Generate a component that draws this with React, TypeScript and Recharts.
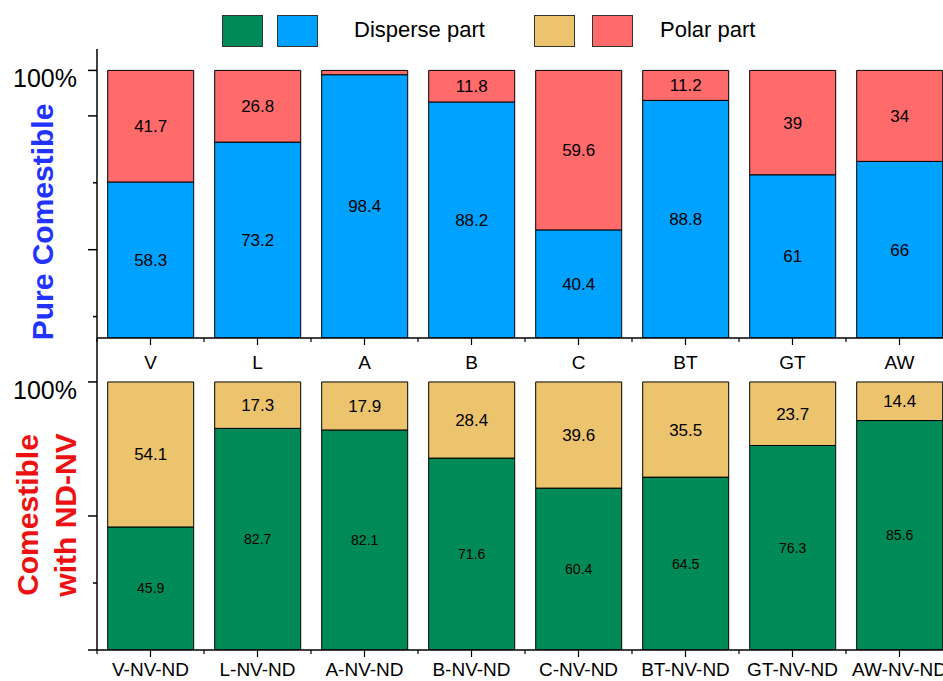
import { BarChart, Bar, XAxis, YAxis, LabelList } from "recharts";

const topCategories = ["V", "L", "A", "B", "C", "BT", "GT", "AW"];
const topDisperse = [58.3, 73.2, 98.4, 88.2, 40.4, 88.8, 61, 66];
const topPolar = [41.7, 26.8, 1.6, 11.8, 59.6, 11.2, 39, 34];

const bottomCategories = ["V-NV-ND", "L-NV-ND", "A-NV-ND", "B-NV-ND", "C-NV-ND", "BT-NV-ND", "GT-NV-ND", "AW-NV-ND"];
const bottomDisperse = [45.9, 82.7, 82.1, 71.6, 60.4, 64.5, 76.3, 85.6];
const bottomPolar = [54.1, 17.3, 17.9, 28.4, 39.6, 35.5, 23.7, 14.4];

const topTicks = [0, 8, 33, 50, 58, 83, 100];
const topMinorTicks = [8, 58];
const bottomTicks = [0, 25, 50, 100];
const bottomMinorTicks = [25];

const topData = topCategories.map((cat, i) => ({ cat, disperse: topDisperse[i], polar: topPolar[i] }));
const bottomData = bottomCategories.map((cat, i) => ({ cat, disperse: bottomDisperse[i], polar: bottomPolar[i] }));

const FONT = "'Liberation Sans', Arial, sans-serif";
const AXIS_X = 97;
const BAND = 107;

const BLUE = "#00A2FF";
const RED = "#FF6B6B";
const GREEN = "#008A57";
const YELLOW = "#EDC46E";

const makeYTick = (minor: number[]) => (props: any) => {
  const { y, payload } = props;
  const len = minor.includes(payload.value) ? 4 : 9;
  return (
    <g>
      <line x1={AXIS_X - len} x2={AXIS_X} y1={y} y2={y} stroke="#000" strokeWidth={1.5} />
      {payload.value === 100 && (
        <text x={AXIS_X - 20} y={y} dy={17} textAnchor="end" fontSize={25} fill="#000" fontFamily={FONT}>
          100%
        </text>
      )}
    </g>
  );
};

const makeXTick = (offset: number) => (props: any) => {
  const { x, y, payload } = props;
  const axisY = y - 7;
  return (
    <g>
      <line x1={x - BAND / 2} x2={x - BAND / 2} y1={axisY} y2={axisY + 4} stroke="#000" strokeWidth={1.2} />
      <text x={x} y={axisY + offset} textAnchor="middle" fontSize={19} fill="#000" fontFamily={FONT}>
        {payload.value}
      </text>
    </g>
  );
};

const hideSmall = (v: any) => (Number(v) < 5 ? "" : v);

const LegendBox = ({ left, color }: { left: number; color: string }) => (
  <div
    style={{
      position: "absolute",
      left,
      top: 15,
      width: 39,
      height: 30,
      background: color,
      border: "1px solid #333",
    }}
  />
);

export default function App() {
  return (
    <div
      style={{
        position: "absolute",
        left: 0,
        top: 0,
        width: 943,
        height: 681,
        overflow: "hidden",
        background: "#fff",
        fontFamily: FONT,
      }}
    >
      <LegendBox left={222} color={GREEN} />
      <LegendBox left={277} color={BLUE} />
      <div style={{ position: "absolute", left: 354, top: 17, fontSize: 22, color: "#000" }}>Disperse part</div>
      <LegendBox left={534} color={YELLOW} />
      <LegendBox left={592} color={RED} />
      <div style={{ position: "absolute", left: 660, top: 17, fontSize: 22, color: "#000" }}>Polar part</div>

      <div style={{ position: "absolute", left: 0, top: 0 }}>
        <BarChart width={960} height={380} data={topData} margin={{ top: 49, right: 7, bottom: 0, left: 0 }} barCategoryGap="10%">
          <XAxis
            dataKey="cat"
            height={42}
            tickSize={7}
            tickMargin={0}
            interval={0}
            tick={makeXTick(31)}
            axisLine={{ stroke: "#000", strokeWidth: 1.5 }}
            tickLine={{ stroke: "#000", strokeWidth: 1.2 }}
          />
          <YAxis
            width={AXIS_X}
            domain={[0, 108]}
            ticks={topTicks}
            allowDataOverflow
            tickLine={false}
            tick={makeYTick(topMinorTicks)}
            axisLine={{ stroke: "#000", strokeWidth: 1.5 }}
          />
          <Bar dataKey="disperse" stackId="a" fill={BLUE} stroke="#000" strokeWidth={1} isAnimationActive={false}>
            <LabelList dataKey="disperse" position="center" fill="#000" fontSize={17} fontFamily={FONT} />
          </Bar>
          <Bar dataKey="polar" stackId="a" fill={RED} stroke="#000" strokeWidth={1} isAnimationActive={false}>
            <LabelList dataKey="polar" position="center" fill="#000" fontSize={17} fontFamily={FONT} formatter={hideSmall} />
          </Bar>
        </BarChart>
      </div>

      <div style={{ position: "absolute", left: 0, top: 338 }}>
        <BarChart width={960} height={343} data={bottomData} margin={{ top: 0, right: 7, bottom: 0, left: 0 }} barCategoryGap="10%">
          <XAxis
            dataKey="cat"
            height={31}
            tickSize={7}
            tickMargin={0}
            interval={0}
            tick={makeXTick(26)}
            axisLine={{ stroke: "#000", strokeWidth: 1.5 }}
            tickLine={{ stroke: "#000", strokeWidth: 1.2 }}
          />
          <YAxis
            width={AXIS_X}
            domain={[0, 116.4]}
            ticks={bottomTicks}
            allowDataOverflow
            tickLine={false}
            tick={makeYTick(bottomMinorTicks)}
            axisLine={{ stroke: "#000", strokeWidth: 1.5 }}
          />
          <Bar dataKey="disperse" stackId="a" fill={GREEN} stroke="#000" strokeWidth={1} isAnimationActive={false}>
            <LabelList dataKey="disperse" position="center" fill="#000" fontSize={14} fontFamily={FONT} />
          </Bar>
          <Bar dataKey="polar" stackId="a" fill={YELLOW} stroke="#000" strokeWidth={1} isAnimationActive={false}>
            <LabelList dataKey="polar" position="center" fill="#000" fontSize={17} fontFamily={FONT} />
          </Bar>
        </BarChart>
      </div>

      <div
        style={{
          position: "absolute",
          left: 43,
          top: 222,
          transform: "translate(-50%, -50%) rotate(-90deg)",
          whiteSpace: "nowrap",
          fontSize: 30,
          fontWeight: "bold",
          color: "#2233FF",
        }}
      >
        Pure Comestible
      </div>
      <div
        style={{
          position: "absolute",
          left: 47,
          top: 515,
          transform: "translate(-50%, -50%) rotate(-90deg)",
          whiteSpace: "nowrap",
          fontSize: 30,
          fontWeight: "bold",
          color: "#EE1111",
          textAlign: "center",
          lineHeight: "38px",
        }}
      >
        Comestible
        <br />
        with ND-NV
      </div>
    </div>
  );
}
